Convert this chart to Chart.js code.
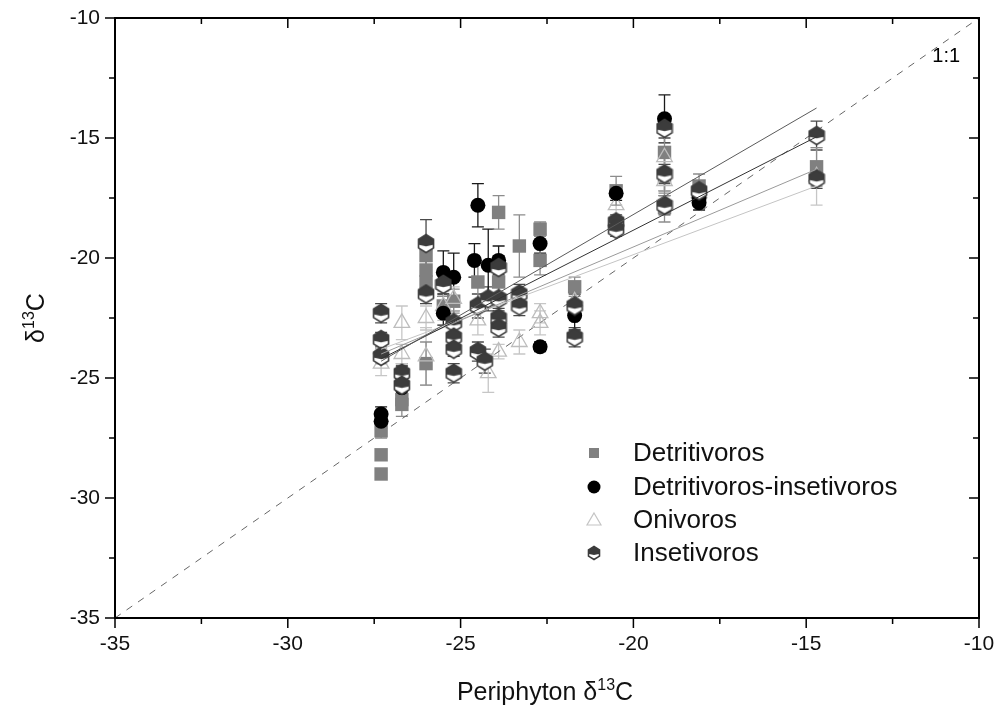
<!DOCTYPE html>
<html>
<head>
<meta charset="utf-8">
<script src="https://cdn.jsdelivr.net/npm/chart.js@4.4.0/dist/chart.umd.min.js"></script>
<style>
  html, body { margin: 0; padding: 0; background: #fff; }
  #wrap { width: 1000px; height: 715px; }
</style>
</head>
<body>
<div id="wrap"><canvas id="myChart" width="1000" height="715"></canvas></div>
<script>
"use strict";

// Detritivoros (grey squares)
const detX = [-27.3, -27.3, -27.3, -26.7, -26.7, -26.0, -26.0, -26.0, -26.0, -25.5, -25.2, -24.5, -23.9, -23.9, -23.3, -22.7, -22.7, -21.7, -20.5, -19.1, -19.1, -19.1, -18.1, -14.7];
const detY = [-27.2, -28.2, -29.0, -25.9, -26.1, -19.9, -20.5, -21.0, -24.4, -22.0, -21.8, -21.0, -18.1, -21.0, -19.5, -18.8, -20.1, -21.2, -17.2, -15.6, -16.6, -17.9, -17.0, -16.2];
const detErr = [0.3, 0, 0, 0.4, 0.5, 0.5, 0.6, 0.5, 0.9, 0.4, 0.5, 0.8, 0.7, 0.7, 1.3, 0.3, 0.6, 0.4, 0.6, 0.8, 0.8, 0.6, 0.5, 0.8];

// Detritivoros-insetivoros (black circles)
const diX = [-27.3, -27.3, -26.7, -26.7, -25.5, -25.5, -25.2, -24.5, -24.6, -24.2, -23.9, -22.7, -22.7, -21.7, -20.5, -19.1, -19.1, -18.1, -18.1];
const diY = [-26.5, -26.8, -24.9, -25.4, -20.6, -22.3, -20.8, -17.8, -20.1, -20.3, -20.1, -19.4, -23.7, -22.4, -17.3, -14.2, -16.5, -17.5, -17.7];
const diErr = [0.3, 0.3, 0.4, 0.5, 0.9, 0.5, 1.0, 0.9, 0.7, 1.5, 0.6, 0.4, 0.2, 0.6, 0.3, 1.0, 0.7, 0.3, 0.3];

// Onivoros (open triangles)
const oniX = [-27.3, -27.3, -26.7, -26.7, -26.0, -26.0, -25.5, -25.2, -24.5, -24.2, -23.9, -23.3, -22.7, -22.7, -21.7, -20.5, -19.1, -19.1, -18.1, -14.7];
const oniY = [-23.8, -24.4, -22.7, -24.0, -22.5, -24.1, -22.0, -21.7, -22.6, -24.8, -23.9, -23.5, -22.3, -22.7, -21.8, -17.8, -15.8, -16.8, -17.3, -16.6];
const oniErr = [0.4, 0.5, 0.7, 0.4, 0.5, 1.2, 0.6, 0.5, 0.6, 0.8, 0.3, 0.5, 0.4, 0.5, 0.4, 0.5, 0.4, 0.4, 0.4, 1.2];

// Insetivoros (half-filled hexagons)
const insX = [-27.3, -27.3, -27.3, -26.7, -26.7, -26.0, -26.0, -25.5, -25.2, -25.2, -25.2, -25.2, -24.5, -24.5, -24.3, -24.2, -23.9, -23.9, -23.9, -23.9, -23.3, -23.3, -21.7, -21.7, -20.5, -20.5, -19.1, -19.1, -19.1, -18.1, -14.7, -14.7];
const insY = [-22.3, -23.4, -24.1, -24.8, -25.3, -19.4, -21.5, -21.1, -22.7, -23.3, -23.8, -24.8, -22.0, -23.9, -24.3, -21.7, -20.4, -21.7, -22.5, -22.9, -21.5, -22.0, -22.0, -23.3, -18.5, -18.8, -14.6, -16.5, -17.8, -17.2, -14.9, -16.7];
const insErr = [0.4, 0.3, 0.3, 0.4, 0.4, 1.0, 0.4, 0.5, 0.5, 0.4, 0.3, 0.4, 0.5, 0.4, 0.5, 0.5, 0.5, 0.5, 0.4, 0.4, 0.4, 0.4, 0.5, 0.4, 0.3, 0.3, 0.4, 0.4, 0.4, 0.3, 0.6, 0.4];

// fitted lines (ends)
const fitX = [-27.3, -14.7];
const fitDiY = [-24.3, -13.75];
const fitInsY = [-24.2, -14.95];
const fitDetY = [-24.0, -16.3];
const fitOniY = [-23.8, -17.0];

const oneToOne = [-35, -10];

const legendNames = ["Detritivoros", "Detritivoros-insetivoros", "Onivoros", "Insetivoros"];

const FONT = "'Liberation Sans', Arial, sans-serif";

function pts(xs, ys) {
  return xs.map((v, i) => ({ x: v, y: ys[i] }));
}

function makeHex(w, h) {
  let c = document.createElement("canvas");
  c.width = w + 3;
  c.height = h + 3;
  let g = c.getContext("2d");
  let l = 1.5, r = w + 1.5, t = 1.5, b = h + 1.5, cx = (w + 3) / 2;
  let q = h * 0.26;
  let mid = t + h * 0.55;
  g.beginPath();
  g.moveTo(cx, t);
  g.lineTo(r, t + q);
  g.lineTo(r, b - q);
  g.lineTo(cx, b);
  g.lineTo(l, b - q);
  g.lineTo(l, t + q);
  g.closePath();
  g.fillStyle = "#fff";
  g.fill();
  g.save();
  g.clip();
  g.fillStyle = "#3c3c3c";
  g.beginPath();
  g.moveTo(0, 0);
  g.lineTo(w + 3, 0);
  g.lineTo(w + 3, mid);
  g.lineTo(cx, mid + h * 0.1);
  g.lineTo(0, mid);
  g.closePath();
  g.fill();
  g.restore();
  g.beginPath();
  g.moveTo(cx, t);
  g.lineTo(r, t + q);
  g.lineTo(r, b - q);
  g.lineTo(cx, b);
  g.lineTo(l, b - q);
  g.lineTo(l, t + q);
  g.closePath();
  g.strokeStyle = "#3c3c3c";
  g.lineWidth = 1.6;
  g.stroke();
  return c;
}

const hexBig = makeHex(15, 18);
const hexSmall = makeHex(11, 13);

function drawSup(ctx, parts, x, y, size) {
  // parts: [text, isSup]
  let widths = parts.map(p => {
    ctx.font = (p[1] ? Math.round(size * 0.62) : size) + "px " + FONT;
    return ctx.measureText(p[0]).width;
  });
  let total = widths.reduce((a, b) => a + b, 0);
  let cx = x - total / 2;
  ctx.textAlign = "left";
  ctx.textBaseline = "alphabetic";
  parts.forEach((p, i) => {
    ctx.font = (p[1] ? Math.round(size * 0.62) : size) + "px " + FONT;
    ctx.fillText(p[0], cx, p[1] ? y - size * 0.42 : y);
    cx += widths[i];
  });
}

const errorBars = {
  id: "errorBars",
  beforeDatasetsDraw(chart) {
    const ctx = chart.ctx;
    const xs = chart.scales.x, ys = chart.scales.y;
    ctx.save();
    chart.data.datasets.forEach(ds => {
      if (!ds.yErr) return;
      ctx.strokeStyle = ds.errColor;
      ctx.lineWidth = 1.3;
      ds.data.forEach((p, i) => {
        let e = ds.yErr[i];
        if (!e) return;
        let px = xs.getPixelForValue(p.x);
        let y1 = ys.getPixelForValue(p.y + e);
        let y2 = ys.getPixelForValue(p.y - e);
        ctx.beginPath();
        ctx.moveTo(px, y1);
        ctx.lineTo(px, y2);
        ctx.moveTo(px - 6, y1);
        ctx.lineTo(px + 6, y1);
        ctx.moveTo(px - 6, y2);
        ctx.lineTo(px + 6, y2);
        ctx.stroke();
      });
    });
    ctx.restore();
  }
};

const frame = {
  id: "frame",
  afterDraw(chart) {
    const ctx = chart.ctx;
    const a = chart.chartArea;
    const xs = chart.scales.x, ys = chart.scales.y;
    ctx.save();
    ctx.strokeStyle = "#000";
    ctx.lineWidth = 2;
    ctx.strokeRect(a.left, a.top, a.right - a.left, a.bottom - a.top);
    ctx.lineWidth = 1.5;
    ctx.beginPath();
    for (let v = -35; v <= -10; v += 2.5) {
      let major = v % 5 === 0;
      let len = major ? 10 : 6;
      let px = xs.getPixelForValue(v);
      let py = ys.getPixelForValue(v);
      ctx.moveTo(px, a.bottom);
      ctx.lineTo(px, a.bottom + len);
      ctx.moveTo(a.left, py);
      ctx.lineTo(a.left - len, py);
      ctx.moveTo(px, a.top);
      ctx.lineTo(px, a.top + len);
      ctx.moveTo(a.right, py);
      ctx.lineTo(a.right - len, py);
    }
    ctx.stroke();

    // 1:1 label
    ctx.fillStyle = "#000";
    ctx.font = "20px " + FONT;
    ctx.textAlign = "center";
    ctx.textBaseline = "middle";
    ctx.fillText("1:1", xs.getPixelForValue(-10.95), ys.getPixelForValue(-11.6));

    // legend
    let lx = 594, rows = [453, 487, 520, 553];
    ctx.fillStyle = "#808080";
    ctx.fillRect(lx - 5, rows[0] - 5, 10, 10);
    ctx.fillStyle = "#000";
    ctx.beginPath();
    ctx.arc(lx, rows[1], 6.5, 0, Math.PI * 2);
    ctx.fill();
    ctx.strokeStyle = "#c4c4c4";
    ctx.lineWidth = 1.2;
    ctx.beginPath();
    ctx.moveTo(lx, rows[2] - 7);
    ctx.lineTo(lx + 7, rows[2] + 5);
    ctx.lineTo(lx - 7, rows[2] + 5);
    ctx.closePath();
    ctx.stroke();
    ctx.drawImage(hexSmall, lx - hexSmall.width / 2, rows[3] - hexSmall.height / 2);
    ctx.fillStyle = "#111";
    ctx.font = "26px " + FONT;
    ctx.textAlign = "left";
    ctx.textBaseline = "middle";
    legendNames.forEach((n, i) => ctx.fillText(n, 633, rows[i] + 1));

    // axis titles
    ctx.fillStyle = "#111";
    drawSup(ctx, [["Periphyton \u03b4", false], ["13", true], ["C", false]], 545, 700, 25);
    ctx.translate(44, 318);
    ctx.rotate(-Math.PI / 2);
    drawSup(ctx, [["\u03b4", false], ["13", true], ["C", false]], 0, 0, 25);
    ctx.restore();
  }
};

const datasets = [
  {
    label: legendNames[3], data: pts(insX, insY), yErr: insErr, errColor: "#4a4a4a",
    pointStyle: hexBig, pointRadius: 9, order: 1
  },
  {
    label: legendNames[1], data: pts(diX, diY), yErr: diErr, errColor: "#1a1a1a",
    pointStyle: "circle", pointRadius: 7.5, backgroundColor: "#000", borderColor: "#000", borderWidth: 0, order: 2
  },
  {
    label: legendNames[2], data: pts(oniX, oniY), yErr: oniErr, errColor: "#c6c6c6",
    pointStyle: "triangle", pointRadius: 9, backgroundColor: "rgba(255,255,255,0)", borderColor: "#bdbdbd", borderWidth: 1.3, order: 3
  },
  {
    label: legendNames[0], data: pts(detX, detY), yErr: detErr, errColor: "#8c8c8c",
    pointStyle: "rect", pointRadius: 9.5, backgroundColor: "#808080", borderColor: "#808080", borderWidth: 0, order: 4
  },
  { type: "line", data: pts(fitX, fitDiY), borderColor: "#5a5a5a", borderWidth: 1, pointRadius: 0, order: 0 },
  { type: "line", data: pts(fitX, fitInsY), borderColor: "#333", borderWidth: 1, pointRadius: 0, order: 0 },
  { type: "line", data: pts(fitX, fitDetY), borderColor: "#9a9a9a", borderWidth: 1, pointRadius: 0, order: 0 },
  { type: "line", data: pts(fitX, fitOniY), borderColor: "#c4c4c4", borderWidth: 1, pointRadius: 0, order: 0 },
  { type: "line", data: pts(oneToOne, oneToOne), borderColor: "#666", borderWidth: 1, borderDash: [7, 7], pointRadius: 0, order: 5 }
];

const config = {
  type: "scatter",
  data: { datasets: datasets },
  options: {
    responsive: false,
    animation: false,
    layout: { padding: { top: 18, right: 21, left: 0, bottom: 0 } },
    plugins: { legend: { display: false }, tooltip: { enabled: false } },
    scales: {
      x: {
        type: "linear", min: -35, max: -10,
        afterFit: s => { s.height = 97; s.paddingLeft = 0; s.paddingRight = 0; },
        grid: { display: false, drawTicks: false },
        border: { display: false },
        ticks: { stepSize: 5, padding: 14, color: "#111", maxRotation: 0, font: { family: FONT, size: 21 } }
      },
      y: {
        type: "linear", min: -35, max: -10,
        afterFit: s => { s.width = 115; s.paddingTop = 0; s.paddingBottom = 0; },
        grid: { display: false, drawTicks: false },
        border: { display: false },
        ticks: { stepSize: 5, padding: 15, color: "#111", font: { family: FONT, size: 21 } }
      }
    }
  },
  plugins: [errorBars, frame]
};

const canvasChart = document.getElementById("myChart");
new Chart(canvasChart, config);
</script>
</body>
</html>
